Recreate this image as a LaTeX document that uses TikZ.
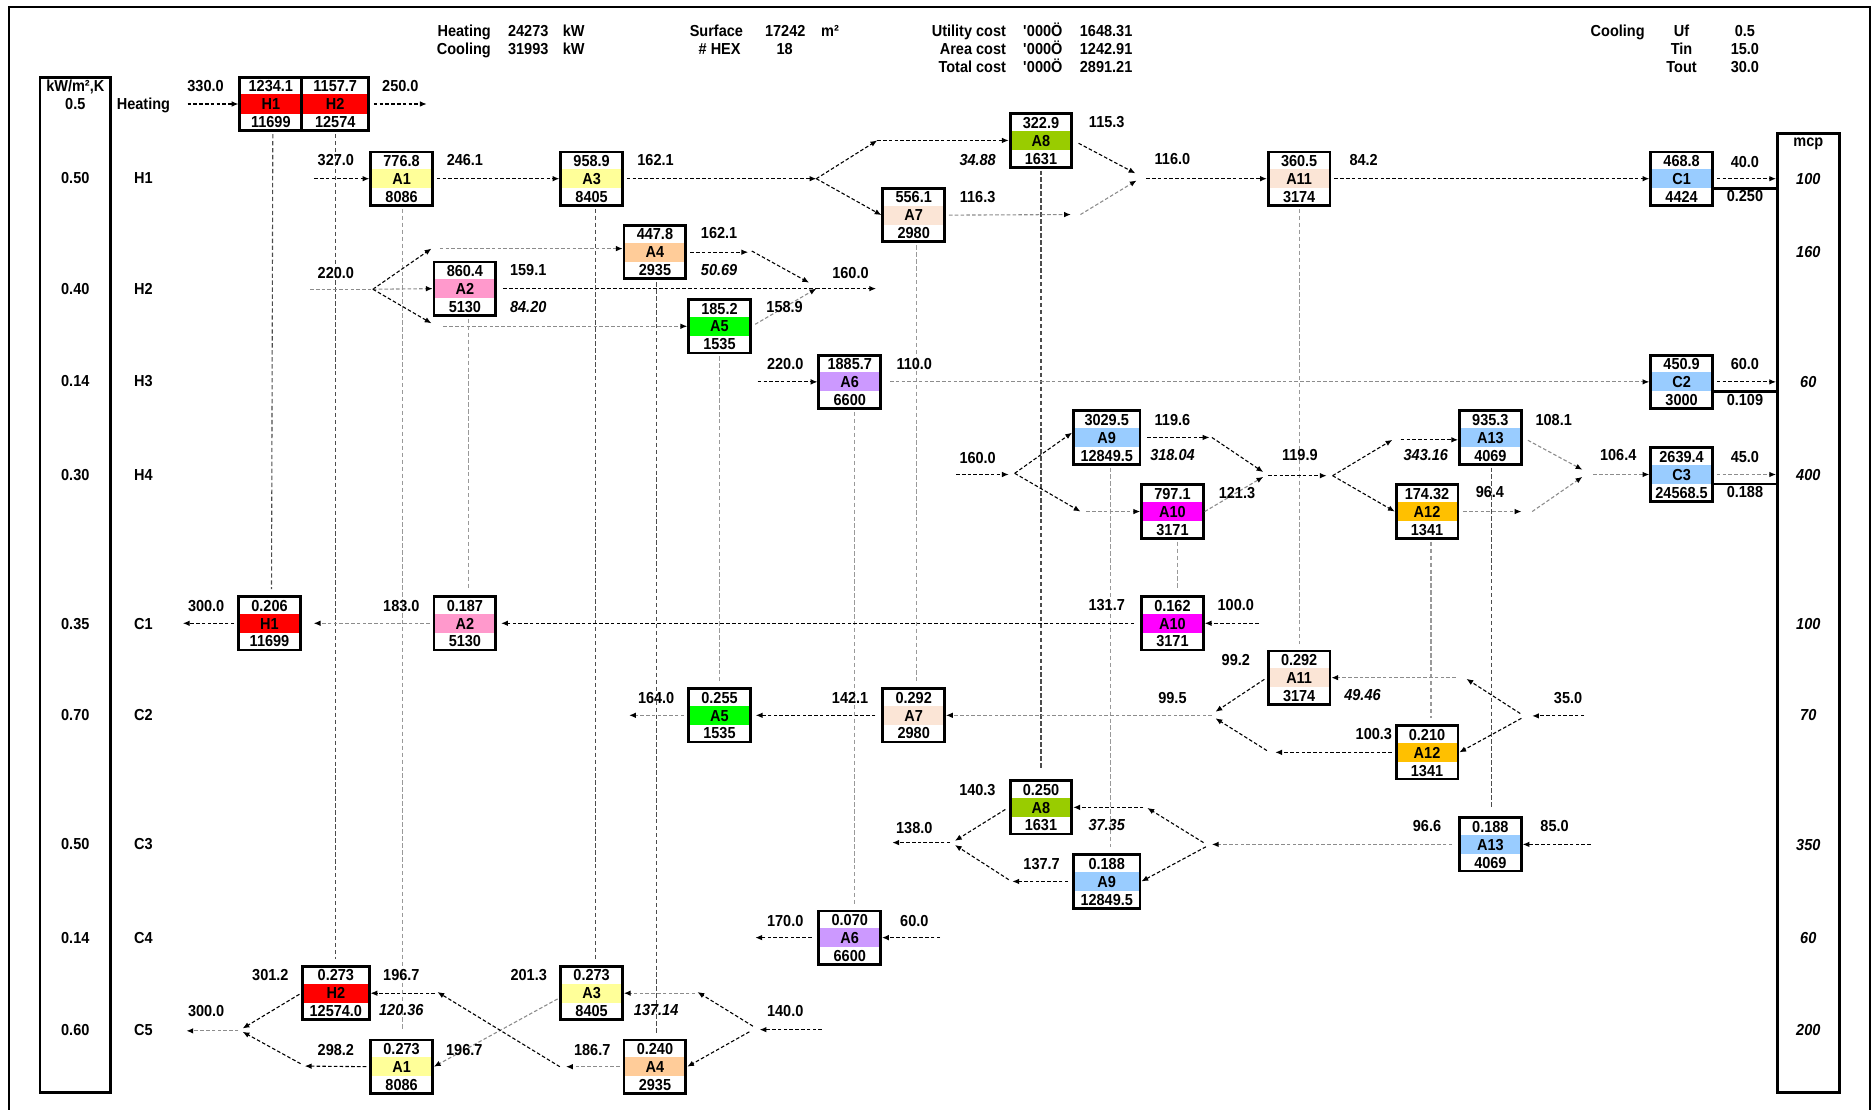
\documentclass[tikz,border=0pt]{standalone}
\usepackage{fontspec}
\setmainfont{Liberation Sans}[FakeStretch=0.91]
\usetikzlibrary{arrows.meta}

\definecolor{bRed}{HTML}{FF0000}
\definecolor{bYel}{HTML}{FFFF99}
\definecolor{bOlive}{HTML}{99CC00}
\definecolor{bPeach}{HTML}{FBE5D6}
\definecolor{bBlue}{HTML}{99CCFF}
\definecolor{bTan}{HTML}{FFCC99}
\definecolor{bPink}{HTML}{FF99CC}
\definecolor{bLime}{HTML}{00FF00}
\definecolor{bLav}{HTML}{CC99FF}
\definecolor{bMag}{HTML}{FF00FF}
\definecolor{bGold}{HTML}{FFC000}

\tikzset{
  txt/.style={inner sep=0pt, text height=5.73pt, text depth=0pt, font=\fontsize{8}{9}\selectfont\bfseries},
  itx/.style={txt, font=\fontsize{8}{9}\selectfont\bfseries\itshape},
  band/.style={path picture={\fill[#1] ([yshift=4.8pt]path picture bounding box.west) rectangle ([yshift=-4.8pt]path picture bounding box.east);}},
  hxb/.style={draw, line width=1.4pt, inner sep=0pt, minimum height=26.8pt},
  side/.style={draw, line width=1.4pt, inner sep=0pt},
  bl/.style={draw=black, line width=0.55pt, dash pattern=on 1.8pt off 1.1pt},
  gr/.style={draw=black!45, line width=0.55pt, dash pattern=on 1.8pt off 1.1pt},
  ar/.style={-{Latex[length=3.4pt,width=2.8pt,color=black]}},
  lkd/.style={draw=black!70, line width=0.55pt, dash pattern=on 2.2pt off 1.3pt, shorten <=1pt, shorten >=3pt},
  lkl/.style={draw=black!40, line width=0.55pt, dash pattern=on 2.2pt off 1.3pt, shorten <=1pt, shorten >=3pt},
}

% heat exchanger cell: [width] name, position, upper value, label, lower value, band colour
\newcommand\hxu[7][31pt]{%
  \node[hxb, band=#7, minimum width=#1] (#2) at (#3) {};
  \node[txt] (#2-t) at ([yshift=9pt]#2.center) {#4};
  \node[txt] (#2-m) at (#2.center) {#5};
  \node[txt] (#2-b) at ([yshift=-9pt]#2.center) {#6};
}
\newcommand\tlab[3]{\node[txt] (#1) at (#2) {#3};}
\newcommand\tlabi[3]{\node[itx] (#1) at (#2) {#3};}
\newcommand\tlabr[3]{\node[txt, anchor=east] (#1) at (#2) {#3};}

\begin{document}
\begin{tikzpicture}[x=0.6pt,y=-0.6pt]
\useasboundingbox (0,0) rectangle (1568,928);

% outer frame
\draw[line width=1pt] (7.5,935) -- (7.5,5.5) -- (1565,5.5) -- (1565,935);

% side columns
\node[side, minimum width=35.4pt, minimum height=509.7pt] (kw) at (63,489.5) {};
\node[side, minimum width=31pt, minimum height=481.6pt] (mcp) at (1513,513) {};

% ---------- exchangers ----------
\hxu[31.1pt]{hH1}{226.6,87}{1234.1}{H1}{11699}{bRed}
\hxu[33.4pt]{hH2}{280.5,87}{1157.7}{H2}{12574}{bRed}
\hxu{A1h}{336,149.5}{776.8}{A1}{8086}{bYel}
\hxu{A3h}{495,149.5}{958.9}{A3}{8405}{bYel}
\hxu{A8h}{871,117.5}{322.9}{A8}{1631}{bOlive}
\hxu{A7h}{764.5,180}{556.1}{A7}{2980}{bPeach}
\hxu{A11h}{1087,149.5}{360.5}{A11}{3174}{bPeach}
\hxu{C1}{1407,149.5}{468.8}{C1}{4424}{bBlue}
\hxu{A4h}{548,211}{447.8}{A4}{2935}{bTan}
\hxu{A2h}{389,241.5}{860.4}{A2}{5130}{bPink}
\hxu{A5h}{602,273}{185.2}{A5}{1535}{bLime}
\hxu{A6h}{711,319.5}{1885.7}{A6}{6600}{bLav}
\hxu{C2}{1407,319.5}{450.9}{C2}{3000}{bBlue}
\hxu[33.4pt]{A9h}{926,366}{3029.5}{A9}{12849.5}{bBlue}
\hxu{A10h}{981,428}{797.1}{A10}{3171}{bMag}
\hxu{A13h}{1247,366}{935.3}{A13}{4069}{bBlue}
\hxu{A12h}{1194,428}{174.32}{A12}{1341}{bGold}
\hxu{C3}{1407,397}{2639.4}{C3}{24568.5}{bBlue}
\hxu{H1c}{225.5,521.5}{0.206}{H1}{11699}{bRed}
\hxu{A2c}{389,521.5}{0.187}{A2}{5130}{bPink}
\hxu{A10c}{981,521.5}{0.162}{A10}{3171}{bMag}
\hxu{A11c}{1087,567}{0.292}{A11}{3174}{bPeach}
\hxu{A7c}{764.5,598.5}{0.292}{A7}{2980}{bPeach}
\hxu{A5c}{602,598.5}{0.255}{A5}{1535}{bLime}
\hxu{A12c}{1194,629.5}{0.210}{A12}{1341}{bGold}
\hxu{A8c}{871,675.5}{0.250}{A8}{1631}{bOlive}
\hxu[33.4pt]{A9c}{926,737.5}{0.188}{A9}{12849.5}{bBlue}
\hxu{A13c}{1247,706.5}{0.188}{A13}{4069}{bBlue}
\hxu{A6c}{711,784.5}{0.070}{A6}{6600}{bLav}
\hxu[33.4pt]{H2c}{281,831}{0.273}{H2}{12574.0}{bRed}
\hxu{A3c}{495,831}{0.273}{A3}{8405}{bYel}
\hxu{A1c}{336,892.5}{0.273}{A1}{8086}{bYel}
\hxu{A4c}{548,892.5}{0.240}{A4}{2935}{bTan}

% ---------- links between the two sides of each exchanger ----------
\draw[lkd] ([xshift=1pt]hH1.south) -- ([xshift=1pt]H1c.north);
\draw[lkd] ([xshift=0.3pt]hH2.south) -- (H2c.north);
\draw[lkl, shorten >=5pt] ([xshift=0.6pt]A1h.south) -- ([xshift=0.6pt]A1c.north);
\draw[lkl] ([xshift=1.8pt]A2h.south) -- ([xshift=1.8pt]A2c.north);
\draw[lkd] ([xshift=2pt]A3h.south) -- ([xshift=2pt]A3c.north);
\draw[lkd] ([xshift=1pt]A4h.south) -- ([xshift=1pt]A4c.north);
\draw[lkl] (A5h.south) -- (A5c.north);
\draw[lkl] ([xshift=2.4pt]A6h.south) -- ([xshift=2.4pt]A6c.north);
\draw[lkl] ([xshift=1.2pt]A7h.south) -- ([xshift=1.2pt]A7c.north);
\draw[lkd, shorten >=5pt] (A8h.south) -- (A8c.north);
\draw[lkl] ([xshift=1.7pt]A9h.south) -- ([xshift=1.7pt]A9c.north);
\draw[lkl] ([xshift=2.4pt]A10h.south) -- ([xshift=2.4pt]A10c.north);
\draw[lkl] (A11h.south) -- (A11c.north);
\draw[lkl] ([xshift=2pt]A12h.south) -- ([xshift=2pt]A12c.north);
\draw[lkd, shorten >=4pt] ([xshift=0.5pt]A13h.south) -- ([xshift=0.5pt]A13c.north);

% ---------- heating utility ----------
\coordinate (hin) at (157,87);
\coordinate (hout) at (357,87);
\draw[bl,ar] (hin) -- (hH1.west);
\draw[bl,ar,shorten <=2pt] (hH2.east) -- (hout);

% ---------- stream H1 ----------
\coordinate (h1in) at (263,149.5);
\coordinate (s1) at (683,149.5);
\coordinate (u1) at (734,117.5);
\coordinate (m1a) at (950,145);
\coordinate (j1a) at (896,179.5);
\coordinate (j1b) at (904,179.5);
\coordinate (m1b) at (951,151);
\coordinate (m1o) at (959,149.5);
\draw[bl,ar] (h1in) -- (A1h.west);
\draw[bl,ar,shorten <=1.5pt] (A1h.east) -- (A3h.west);
\draw[bl,ar,shorten <=1.5pt] (A3h.east) -- (s1);
\draw[bl,ar] (s1) -- (u1);
\draw[bl,ar] (u1) -- (A8h.west);
\draw[bl,ar] (s1) -- (A7h.west);
\draw[bl,ar,shorten <=3pt] (A8h.east) -- (m1a);
\draw[gr,ar,shorten <=1.5pt] (A7h.east) -- (j1a);
\draw[gr,ar] (j1b) -- (m1b);
\draw[bl,ar] (m1o) -- (A11h.west);
\draw[bl,ar,shorten <=1.5pt] (A11h.east) -- (C1.west);
\draw[bl,ar,shorten <=1.5pt] (C1.east) -- (mcp.west |- C1.east);
\path (C1.east) ++(0,-4.8pt) coordinate (c1bar);
\draw[line width=1.4pt] (c1bar) -- (mcp.west |- c1bar);

% ---------- stream H2 ----------
\coordinate (h2in) at (259.5,242);
\coordinate (s2) at (312,242);
\coordinate (u2) at (361,208);
\coordinate (u2b) at (368,208);
\coordinate (d2) at (361,270.5);
\coordinate (d2b) at (371,273);
\coordinate (m2) at (683,241.5);
\coordinate (j2a) at (626,211);
\coordinate (j2b) at (629,210);
\coordinate (m2a) at (677,236.5);
\coordinate (h2out) at (733,241.5);
\draw[gr] (h2in) -- (s2);
\draw[bl,ar] (s2) -- (u2);
\draw[gr,ar] (u2b) -- (A4h.west |- u2b);
\draw[gr,ar] (s2) -- (A2h.west);
\draw[bl,ar] (s2) -- (d2);
\draw[gr,ar] (d2b) -- (A5h.west);
\draw[bl,shorten <=3pt] (A2h.east) -- (m2);
\draw[bl,ar,shorten <=1.5pt] (A4h.east) -- (j2a);
\draw[bl,ar] (j2b) -- (m2a);
\draw[gr,ar,shorten <=2pt] (A5h.east) -- (m2);
\draw[bl,ar] (m2) -- (h2out);

% ---------- stream H3 ----------
\coordinate (h3in) at (634,319.5);
\draw[bl,ar] (h3in) -- (A6h.west);
\draw[gr,ar,shorten <=4pt] (A6h.east) -- (C2.west);
\draw[bl,ar,shorten <=1.5pt] (C2.east) -- (mcp.west |- C2.east);
\path (C2.east) ++(0,-4.8pt) coordinate (c2bar);
\draw[line width=1.4pt] (c2bar) -- (mcp.west |- c2bar);

% ---------- stream H4 ----------
\coordinate (h4in) at (800,397);
\coordinate (s4) at (844,397);
\coordinate (s4b) at (849,396);
\coordinate (d4) at (904,428);
\coordinate (d4b) at (909,428);
\coordinate (j4a) at (1012,366);
\coordinate (j4b) at (1014,366);
\coordinate (m4a) at (1057,395);
\coordinate (m4b) at (1057,399);
\coordinate (m4o) at (1061,398);
\coordinate (s5) at (1110,398);
\coordinate (s5b) at (1115,398);
\coordinate (u5) at (1165,368);
\coordinate (u5b) at (1172,368);
\coordinate (m5a) at (1324,393);
\coordinate (j5a) at (1273,428);
\coordinate (j5b) at (1282,428);
\coordinate (m5b) at (1324,399);
\coordinate (m5o) at (1333,397);
\draw[bl,ar] (h4in) -- (s4);
\draw[bl,ar] (s4b) -- ([yshift=2.4pt]A9h.west);
\draw[bl,ar] (s4b) -- (d4);
\draw[gr,ar] (d4b) -- (A10h.west);
\draw[bl,ar,shorten <=3pt] (A9h.east) -- (j4a);
\draw[bl,ar] (j4b) -- (m4a);
\draw[gr,ar] (A10h.east) -- (m4b);
\draw[bl,ar] (m4o) -- (s5);
\draw[bl,ar] (s5b) -- (u5);
\draw[bl,ar] (u5b) -- (A13h.west |- u5b);
\draw[bl,ar] (s5b) -- (A12h.west);
\draw[gr,ar,shorten <=3pt] (A13h.east) -- (m5a);
\draw[gr,ar,shorten <=2pt] (A12h.east) -- (j5a);
\draw[gr,ar] (j5b) -- (m5b);
\draw[gr,ar] (m5o) -- (C3.west);
\draw[gr,ar,shorten <=1.5pt] (C3.east) -- (mcp.west |- C3.east);
\path (C3.east) ++(0,-4.8pt) coordinate (c3bar);
\draw[line width=1.4pt] (c3bar) -- (mcp.west |- c3bar);

% ---------- stream C1 ----------
\coordinate (c1in) at (1053,521.5);
\coordinate (c1out) at (153,521.5);
\draw[bl,ar] (c1in) -- (A10c.east);
\draw[bl,ar,shorten <=3pt,shorten >=2pt] (A10c.west) -- (A2c.east);
\draw[gr,ar,shorten <=1.5pt,shorten >=6pt] (A2c.west) -- (H1c.east);
\draw[bl,ar,shorten <=1.5pt] (H1c.west) -- (c1out);

% ---------- stream C2 ----------
\coordinate (c2in) at (1325.5,599);
\coordinate (s6) at (1282,599);
\coordinate (s6b) at (1272,597);
\coordinate (s6c) at (1273,601);
\coordinate (u6) at (1227,568);
\coordinate (u6b) at (1218,567);
\coordinate (m6a) at (1017,595.5);
\coordinate (j6a) at (1067,629.5);
\coordinate (j6b) at (1060,628);
\coordinate (m6b) at (1017,601);
\coordinate (m6o) at (1014,598.5);
\coordinate (c2out) at (526.4,598.5);
\draw[bl,ar] (c2in) -- (s6);
\draw[bl,ar] (s6b) -- (u6);
\draw[gr,ar] (u6b) -- (A11c.east);
\draw[bl,ar] (s6c) -- (A12c.east);
\draw[bl,ar,shorten <=1.5pt] (A11c.west) -- (m6a);
\draw[bl,ar,shorten <=1.5pt] (A12c.west) -- (j6a);
\draw[bl,ar] (j6b) -- (m6b);
\draw[gr,ar] (m6o) -- (A7c.east);
\draw[bl,ar,shorten <=3pt,shorten >=2pt] (A7c.west) -- (A5c.east);
\draw[gr,ar,shorten <=1.5pt] (A5c.west) -- (c2out);

% ---------- stream C3 ----------
\coordinate (c3in) at (1331,706.5);
\coordinate (s7) at (1014,706.5);
\coordinate (s7a) at (1007,705);
\coordinate (s7b) at (1009,708.5);
\coordinate (u7) at (960,676);
\coordinate (u7b) at (956.6,675.5);
\coordinate (m7a) at (799,703.5);
\coordinate (j7a) at (847,737.5);
\coordinate (j7b) at (844,736);
\coordinate (m7b) at (799,707);
\coordinate (m7o) at (795,705);
\coordinate (c3out) at (746.6,705);
\draw[bl,ar] (c3in) -- (A13c.east);
\draw[gr,ar,shorten <=3pt] (A13c.west) -- (s7);
\draw[bl,ar] (s7a) -- (u7);
\draw[bl,ar] (u7b) -- (A8c.east);
\draw[bl,ar] (s7b) -- (A9c.east);
\draw[bl,ar,shorten <=2pt] (A8c.west) -- (m7a);
\draw[bl,ar,shorten <=2pt] (A9c.west) -- (j7a);
\draw[bl,ar] (j7b) -- (m7b);
\draw[bl,ar] (m7o) -- (c3out);

% ---------- stream C4 ----------
\coordinate (c4in) at (786.6,784.5);
\coordinate (c4out) at (632,784.5);
\draw[bl,ar] (c4in) -- (A6c.east);
\draw[bl,ar,shorten <=3pt] (A6c.west) -- (c4out);

% ---------- stream C5 ----------
\coordinate (c5in) at (687.7,861.5);
\coordinate (s8) at (635.6,861.5);
\coordinate (s8a) at (630,858.6);
\coordinate (s8b) at (627,863.3);
\coordinate (u8) at (583.6,830);
\coordinate (u8b) at (581.7,831);
\coordinate (j8a) at (473.6,892.5);
\coordinate (j8b) at (468.4,892.5);
\coordinate (u9) at (366,830);
\coordinate (u9b) at (364,831);
\coordinate (m8a) at (203,860.5);
\coordinate (j9a) at (255,892);
\coordinate (j9b) at (251.5,890);
\coordinate (m8b) at (203,863.3);
\coordinate (m8o) at (199.5,862.5);
\coordinate (c5out) at (156,862.5);
\draw[bl,ar] (c5in) -- (s8);
\draw[bl,ar] (s8a) -- (u8);
\draw[gr,ar] (u8b) -- (A3c.east);
\draw[bl,ar] (s8b) -- (A4c.east);
\draw[gr,ar,shorten <=1pt] ([yshift=-2.4pt]A3c.west) -- (A1c.east);
\draw[gr,ar,shorten <=1.5pt] (A4c.west) -- (j8a);
\draw[bl,ar] (j8b) -- (u9);
\draw[bl,ar] (u9b) -- (H2c.east);
\draw[bl,ar,shorten <=1pt] (H2c.west) -- (m8a);
\draw[bl,ar,shorten <=1.5pt] (A1c.west) -- (j9a);
\draw[bl,ar] (j9b) -- (m8b);
\draw[gr,ar] (m8o) -- (c5out);

% ---------- header ----------
\tlabr{tHeat}{411,26}{Heating}
\tlabr{tCool}{411,41}{Cooling}
\tlab{vHeat}{442,26}{24273}
\tlab{vCool}{442,41}{31993}
\tlab{uHeat}{480,26}{kW}
\tlab{uCool}{480,41}{kW}
\tlabr{tSurf}{622,26}{Surface}
\tlabr{tHex}{620,41}{\# HEX}
\tlab{vSurf}{657,26}{17242}
\tlab{vHex}{656.5,41}{18}
\tlab{uSurf}{694.5,26}{m²}
\tlabr{tUtil}{842,26}{Utility cost}
\tlabr{tArea}{842,41}{Area cost}
\tlabr{tTot}{842,56}{Total cost}
\tlab{kUtil}{872.5,26}{\textquotesingle 000Ö}
\tlab{kArea}{872.5,41}{\textquotesingle 000Ö}
\tlab{kTot}{872.5,56}{\textquotesingle 000Ö}
\tlab{vUtil}{925.5,26}{1648.31}
\tlab{vArea}{925.5,41}{1242.91}
\tlab{vTot}{925.5,56}{2891.21}
\tlab{tCw}{1353.5,26}{Cooling}
\tlab{tUf}{1407,26}{Uf}
\tlab{tTin}{1407,41}{Tin}
\tlab{tTout}{1407,56}{Tout}
\tlab{vUf}{1460,26}{0.5}
\tlab{vTin}{1460,41}{15.0}
\tlab{vTout}{1460,56}{30.0}

% ---------- film coefficients and stream names ----------
\tlab{kwU}{63,72}{kW/m²,K}
\tlab{kw0}{63,87}{0.5}
\tlab{kw1}{63,148.5}{0.50}
\tlab{kw2}{63,241.8}{0.40}
\tlab{kw3}{63,319}{0.14}
\tlab{kw4}{63,397}{0.30}
\tlab{kw5}{63,521.5}{0.35}
\tlab{kw6}{63,598}{0.70}
\tlab{kw7}{63,706}{0.50}
\tlab{kw8}{63,785}{0.14}
\tlab{kw9}{63,862}{0.60}
\tlab{sHeat}{120,87}{Heating}
\tlab{sH1}{120,148.5}{H1}
\tlab{sH2}{120,241.8}{H2}
\tlab{sH3}{120,319}{H3}
\tlab{sH4}{120,397}{H4}
\tlab{sC1}{120,521.5}{C1}
\tlab{sC2}{120,598}{C2}
\tlab{sC3}{120,706}{C3}
\tlab{sC4}{120,785}{C4}
\tlab{sC5}{120,862}{C5}

% ---------- heat capacity flow rates ----------
\tlab{mcpT}{1513,117.7}{mcp}
\tlabi{mH1}{1513,149.8}{100}
\tlabi{mH2}{1513,211}{160}
\tlabi{mH3}{1513,319.3}{60}
\tlabi{mH4}{1513,397.4}{400}
\tlabi{mC1}{1513,521.5}{100}
\tlabi{mC2}{1513,598}{70}
\tlabi{mC3}{1513,707}{350}
\tlabi{mC4}{1513,785}{60}
\tlabi{mC5}{1513,862}{200}

% ---------- temperatures and areas ----------
\tlab{t330}{172,72}{330.0}
\tlab{t250}{335,72}{250.0}
\tlab{t327}{281,134}{327.0}
\tlab{t246}{389,134}{246.1}
\tlab{t162a}{548.5,134}{162.1}
\tlabi{t3488}{818,133.5}{34.88}
\tlab{t1153}{926,102}{115.3}
\tlab{t1163}{818,164.5}{116.3}
\tlab{t1160}{981,133}{116.0}
\tlab{t842}{1141,133.5}{84.2}
\tlab{t400}{1460,135}{40.0}
\tlab{t0250}{1460,164}{0.250}
\tlab{t220a}{281,228}{220.0}
\tlab{t1591}{442,226}{159.1}
\tlabi{t8420}{442,256.5}{84.20}
\tlab{t162b}{601.7,195}{162.1}
\tlabi{t5069}{601.7,226}{50.69}
\tlab{t1589}{656.5,256.5}{158.9}
\tlab{t1600a}{711.6,228}{160.0}
\tlab{t220b}{657,304.6}{220.0}
\tlab{t1100}{765,304.6}{110.0}
\tlab{t600a}{1460,304.6}{60.0}
\tlab{t0109}{1460,334.7}{0.109}
\tlab{t1600b}{818,382.7}{160.0}
\tlab{t1196}{981,351}{119.6}
\tlabi{t31804}{981,380.7}{318.04}
\tlab{t1213}{1035,412}{121.3}
\tlab{t1199}{1087.6,380.7}{119.9}
\tlabi{t34316}{1193,380.7}{343.16}
\tlab{t1081}{1300,351}{108.1}
\tlab{t964}{1246.6,411.7}{96.4}
\tlab{t1064}{1354,380.7}{106.4}
\tlab{t450}{1460,382}{45.0}
\tlab{t0188}{1460,411.7}{0.188}
\tlab{t1000}{1034,506}{100.0}
\tlab{t1317}{926,506}{131.7}
\tlab{t1830}{335.8,507}{183.0}
\tlab{t3000a}{172.5,507}{300.0}
\tlab{t350}{1312,584}{35.0}
\tlab{t992}{1034,552}{99.2}
\tlabi{t4946}{1140,581.6}{49.46}
\tlab{t1003}{1149.5,613.6}{100.3}
\tlab{t995}{981,584}{99.5}
\tlab{t1421}{711.3,584}{142.1}
\tlab{t1640}{549,584}{164.0}
\tlab{t850}{1300.7,690.6}{85.0}
\tlab{t966}{1194,690.6}{96.6}
\tlab{t1403}{817.8,661}{140.3}
\tlabi{t3735}{926,690.4}{37.35}
\tlab{t1377}{871.5,722.4}{137.7}
\tlab{t1380}{765,692.3}{138.0}
\tlab{t600b}{765,770}{60.0}
\tlab{t1700}{657,770}{170.0}
\tlab{t1400}{657,846}{140.0}
\tlabi{t13714}{549,845}{137.14}
\tlab{t2013}{442.4,816}{201.3}
\tlab{t1867}{495.5,878.6}{186.7}
\tlab{t1967a}{335.8,816}{196.7}
\tlabi{t12036}{335.8,845}{120.36}
\tlab{t1967b}{388.5,878.6}{196.7}
\tlab{t3012}{226.2,816}{301.2}
\tlab{t2982}{281,878.6}{298.2}
\tlab{t3000b}{172.5,846}{300.0}
\end{tikzpicture}
\end{document}
